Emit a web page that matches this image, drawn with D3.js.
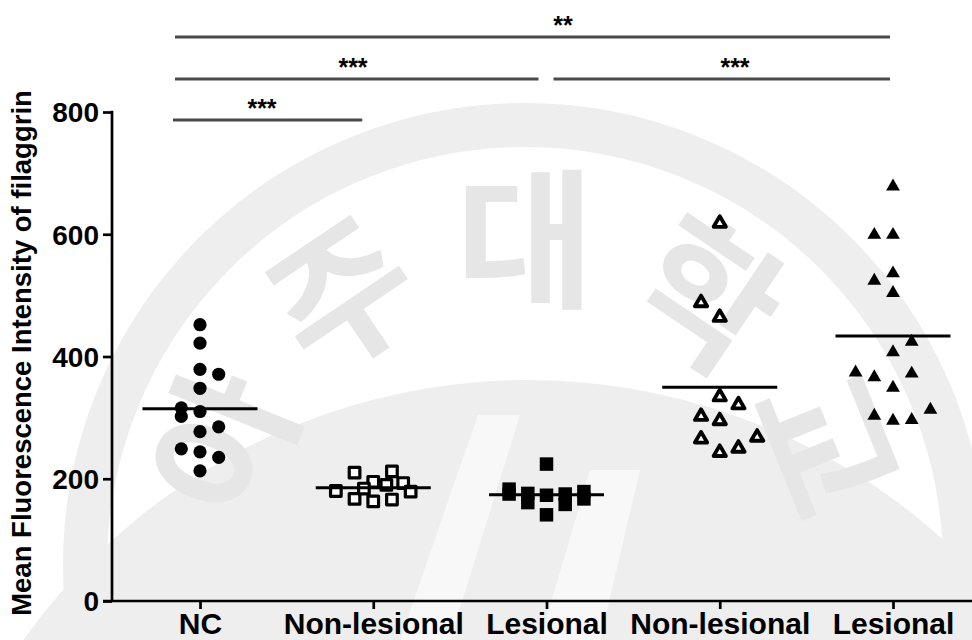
<!DOCTYPE html>
<html>
<head>
<meta charset="utf-8">
<script src="https://cdn.jsdelivr.net/npm/d3@7"></script>
<style>
  html, body { margin: 0; padding: 0; background: #ffffff; }
  svg { display: block; }
  text { font-family: "Liberation Sans", Arial, sans-serif; font-weight: bold; fill: #000; }
</style>
</head>
<body>
<svg id="chart" width="972" height="640"></svg>
<script>
// ---------------- data ----------------
const categories = ["NC", "Non-lesional", "Lesional", "Non-lesional", "Lesional"];
const yTickValues = [0, 200, 400, 600, 800];
const yTitle = "Mean Fluorescence Intensity of filaggrin";

// group 0: NC (filled circles)
const ncValues = [452, 422, 379, 371, 348, 316, 310, 302, 285, 277, 249, 244, 235, 213];
const ncSlots  = [0, 0, 0, 1, 0, -1, 0, -1, 1, 0, -1, 0, 1, 0];
// group 1: Non-lesional (open squares)
const nlSquareValues = [180, 210, 212, 195, 190, 193, 179, 167, 163, 166, 184];
const nlSquareSlots  = [-2, -1, 1, 0, 0.7, 1.6, 2, -1, 0, 1, -0.5];
// group 2: Lesional (filled squares)
const lSquareValues = [224, 183, 175, 176, 161, 173, 141, 175, 158, 179, 167];
const lSquareSlots  = [0, -2, -2, -1, -1, 0, 0, 1, 1, 2, 2];
// group 3: Non-lesional (open triangles)
const nlTriValues = [618, 488, 464, 334, 321, 302, 295, 265, 268, 243, 250];
const nlTriSlots  = [0, -1, 0, 0, 1, -1, 0, -1, 2, 0, 1];
// group 4: Lesional (filled triangles)
const lTriValues = [678, 599, 599, 536, 524, 504, 424, 407, 374, 366, 372, 349, 303, 295, 296, 313];
const lTriSlots  = [0, -1, 0, 0, -1, 0, 1, 0, -2, -1, 1, 0, -1, 0, 1, 2];

// significance comparisons (group index from / to, label, bracket level)
const comparisons = [
  { from: 0, to: 4, label: "**",  level: 3 },
  { from: 0, to: 2, label: "***", level: 2 },
  { from: 2, to: 4, label: "***", level: 2 },
  { from: 0, to: 1, label: "***", level: 1 }
];

// ---------------- layout ----------------
const W = 972, H = 640;
const svg = d3.select("#chart");

const x = d3.scalePoint().domain(d3.range(categories.length)).range([200, 893]);
const y = d3.scaleLinear().domain([0, 800]).range([601, 112]);
const slotW = 18.7;
const meanHalf = 57.5;

// ---------------- watermark (faint background) ----------------
const wm = svg.append("g").attr("class", "watermark");
wm.append("circle").attr("cx", 528).attr("cy", 1000).attr("r", 620).attr("fill", "#eeeeee");
wm.append("path")
  .attr("d", "M 400 640 L 478 415 L 520 415 L 450 640 Z M 540 640 L 590 470 L 640 470 L 600 640 Z")
  .attr("fill", "#f8f8f8");
wm.append("circle").attr("cx", 525).attr("cy", 565).attr("r", 440)
  .attr("fill", "none").attr("stroke", "#eeeeee").attr("stroke-width", 44);
const wmChars = [
  { ch: "아", ang: -68 },
  { ch: "주", ang: -34 },
  { ch: "대", ang: 0 },
  { ch: "학", ang: 34 },
  { ch: "교", ang: 68 }
];
wmChars.forEach(d => {
  const a = d.ang * Math.PI / 180;
  const cx = 525 + 335 * Math.sin(a), cy = 565 - 335 * Math.cos(a);
  wm.append("text")
    .attr("transform", `translate(${cx},${cy}) rotate(${d.ang})`)
    .attr("text-anchor", "middle").attr("dominant-baseline", "central")
    .style("font-family", "'Noto Sans CJK KR', sans-serif")
    .style("font-weight", "bold").style("font-size", "150px")
    .style("fill", "#e6e6e6")
    .text(d.ch);
});

// ---------------- axes ----------------
const yAxis = svg.append("g")
  .attr("transform", `translate(112,0)`)
  .call(d3.axisLeft(y).tickValues(yTickValues).tickSize(9).tickPadding(4).tickFormat(d3.format("d")));
yAxis.select(".domain").remove();
yAxis.selectAll(".tick line").attr("stroke", "#000").attr("stroke-width", 2.7);
yAxis.selectAll(".tick text").style("font-size", "28px").attr("dy", "0.35em");
svg.append("line").attr("x1", 112).attr("x2", 112).attr("y1", y(800) - 1.3).attr("y2", y(0))
  .attr("stroke", "#000").attr("stroke-width", 2.7);

const xAxis = svg.append("g")
  .attr("transform", `translate(0,${y(0)})`)
  .call(d3.axisBottom(x).tickSize(8).tickPadding(5).tickFormat(i => categories[i]));
xAxis.select(".domain").remove();
xAxis.selectAll(".tick line").attr("stroke", "#000").attr("stroke-width", 2.7);
xAxis.selectAll(".tick text").style("font-size", "30px").attr("dy", null).attr("y", 33);
svg.append("line").attr("x1", 103).attr("x2", W).attr("y1", y(0)).attr("y2", y(0))
  .attr("stroke", "#000").attr("stroke-width", 2.7);

svg.append("text")
  .attr("transform", `translate(31,353) rotate(-90)`)
  .attr("text-anchor", "middle")
  .style("font-size", "27.5px")
  .text(yTitle);

// ---------------- points ----------------
const groups = [
  { values: ncValues,       slots: ncSlots,       shape: "circle" },
  { values: nlSquareValues, slots: nlSquareSlots, shape: "openSquare" },
  { values: lSquareValues,  slots: lSquareSlots,  shape: "square" },
  { values: nlTriValues,    slots: nlTriSlots,    shape: "openTriangle" },
  { values: lTriValues,     slots: lTriSlots,     shape: "triangle" }
];

const symbolFor = {
  circle:       { type: d3.symbolCircle,   size: Math.PI * 6.6 * 6.6, fill: "#000", stroke: "none", sw: 0 },
  openSquare:   { type: d3.symbolSquare,   size: 10.6 * 10.6,         fill: "#fff", stroke: "#000", sw: 3.2 },
  square:       { type: d3.symbolSquare,   size: 13.5 * 13.5,         fill: "#000", stroke: "none", sw: 0 },
  openTriangle: { type: d3.symbolTriangle, size: 12.3 * 12.3 * Math.sqrt(3) / 4, fill: "#fff", stroke: "#000", sw: 3.8 },
  triangle:     { type: d3.symbolTriangle, size: 13.8 * 13.8 * Math.sqrt(3) / 4, fill: "#000", stroke: "none", sw: 0 }
};

const plot = svg.append("g");
groups.forEach((g, gi) => {
  const s = symbolFor[g.shape];
  const gen = d3.symbol().type(s.type).size(s.size);
  const pts = g.values.map((v, i) => ({ v, slot: g.slots[i] }));
  plot.append("g").selectAll("path").data(pts).join("path")
    .attr("d", gen)
    .attr("transform", d => `translate(${x(gi) + d.slot * slotW},${y(d.v)})`)
    .attr("fill", s.fill)
    .attr("stroke", s.stroke)
    .attr("stroke-width", s.sw)
    .attr("stroke-linejoin", "round");
  const m = d3.mean(g.values);
  plot.append("line")
    .attr("x1", x(gi) - meanHalf).attr("x2", x(gi) + meanHalf)
    .attr("y1", y(m)).attr("y2", y(m))
    .attr("stroke", "#000").attr("stroke-width", 3);
});

// ---------------- significance brackets ----------------
const levelY = { 1: 120, 2: 79, 3: 37 };
const bracketLayout = [
  { x1: x(0) - 25, x2: x(4) - 3, lx: 563 },
  { x1: x(0) - 25, x2: x(2) - 8, lx: 353 },
  { x1: x(2) + 7,  x2: x(4) - 3, lx: 735 },
  { x1: x(0) - 27, x2: x(1) - 11, lx: 262 }
];
const ann = svg.append("g");
comparisons.forEach((c, i) => {
  const L = bracketLayout[i];
  const yy = levelY[c.level];
  ann.append("line")
    .attr("x1", L.x1).attr("x2", L.x2).attr("y1", yy).attr("y2", yy)
    .attr("stroke", "#4a4a4a").attr("stroke-width", 2.8);
  ann.append("text")
    .attr("x", L.lx).attr("y", yy - 3)
    .attr("text-anchor", "middle")
    .style("font-size", "25px")
    .text(c.label);
});
</script>
</body>
</html>
